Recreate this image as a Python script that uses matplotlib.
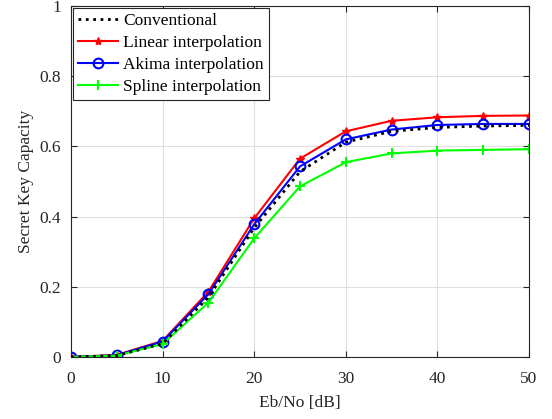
import matplotlib
matplotlib.use("Agg")
import matplotlib.pyplot as plt

# data
snr = [0, 5, 10, 15, 20, 25, 30, 35, 40, 45, 50]
conventional = [0, 0.004, 0.038, 0.170, 0.368, 0.528, 0.612, 0.643, 0.654, 0.658, 0.660]
linear = [0, 0.006, 0.046, 0.186, 0.395, 0.565, 0.643, 0.673, 0.683, 0.687, 0.688]
akima = [0, 0.005, 0.044, 0.179, 0.378, 0.543, 0.620, 0.648, 0.661, 0.664, 0.664]
spline = [0, 0.004, 0.037, 0.155, 0.338, 0.486, 0.555, 0.580, 0.588, 0.590, 0.592]

plt.rcParams['font.family'] = ['Liberation Serif', 'DejaVu Serif']
plt.rcParams['font.size'] = 12.5

fig = plt.figure(figsize=(5.52, 4.19), dpi=100)
ax = fig.add_axes([71/552, 1-357/419, 458/552, 351/419])

ax.plot(snr, conventional, ':', color='k', lw=2, label='Conventional', zorder=5)
ax.plot(snr, linear, '-', color='r', lw=1.5, marker='*', ms=6, label='Linear interpolation')
ax.plot(snr, akima, '-', color='b', lw=1.5, marker='o', ms=7, mfc='none', mew=1.5, label='Akima interpolation')
ax.plot(snr, spline, '-', color='#00ff00', lw=1.5, marker='+', ms=7, mew=1.5, label='Spline interpolation')

ax.set_xlim(0, 50)
ax.set_ylim(0, 1)
ax.set_xticks([0, 10, 20, 30, 40, 50])
ax.set_yticks([0, 0.2, 0.4, 0.6, 0.8, 1])
ax.set_yticklabels(['0', '0.2', '0.4', '0.6', '0.8', '1'])
ax.grid(True, color='#dfdfdf', lw=0.8)
ax.set_axisbelow(True)
ax.tick_params(direction='in', top=True, right=True, length=4, pad=7,
               colors='#262626', labelcolor='#262626')
ax.tick_params(axis='x', pad=10)
for s in ax.spines.values():
    s.set_color('#262626')
    s.set_linewidth(0.8)
ax.set_xlabel('Eb/No [dB]', color='#262626', labelpad=6)
ax.set_ylabel('Secret Key Capacity', color='#262626', labelpad=4)

leg = ax.legend(loc='upper left', fancybox=False, edgecolor='#262626', framealpha=1,
                borderaxespad=0.1, handlelength=2.3, handletextpad=0.3, labelspacing=0.33,
                borderpad=0.3)
leg.get_frame().set_linewidth(0.8)

fig.savefig('out.png', dpi=100)
